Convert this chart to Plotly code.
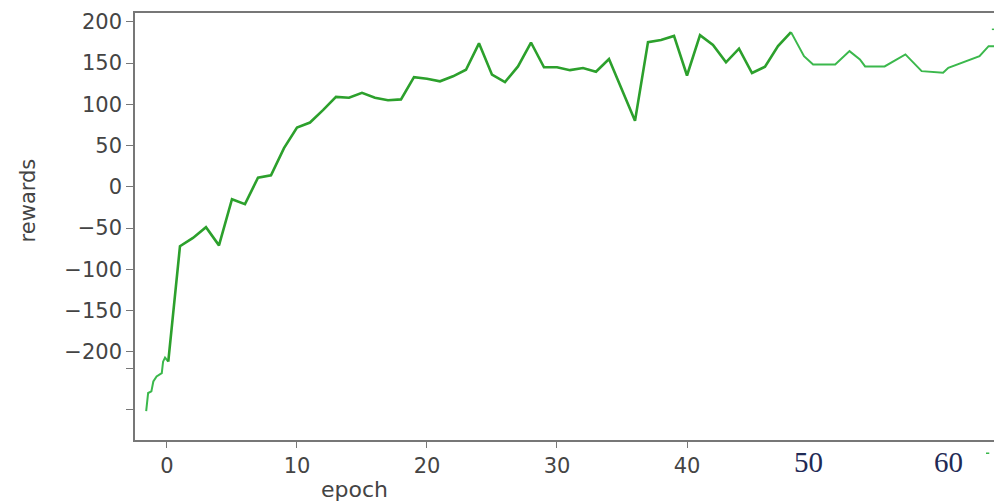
import plotly.graph_objects as go

# ---- data ----
pre_epochs = [-1.6, -1.45, -1.2, -1.05, -0.8, -0.4, -0.3, -0.15, 0.1]
pre_rewards = [-272, -250, -248, -236, -230, -226, -212, -207, -212]

main_epochs = [0.1] + list(range(1, 49))
main_rewards = [-212, -72, -62, -49, -71, -15, -21, 11, 14, 47, 72,
                78, 93, 109, 108, 114, 108, 105, 106, 133, 131,
                128, 134, 142, 174, 136, 127, 146, 175, 145, 145,
                141.5, 144, 139.5, 155, 118, 80, 175.5, 178, 183, 135,
                184, 172, 151, 167.5, 138, 145.6, 170.6, 187.6]

post_epochs = [48, 49, 49.7, 51.4, 52.5, 53.3, 53.7, 55.2, 56.8, 57.2, 58.05,
               59.7, 60.1, 62.5, 63.2, 64.3]
post_rewards = [187.6, 158.5, 148.4, 148.4, 164.6, 154.5, 146, 146, 160.6, 154.5,
                140.3, 138.3, 144.4, 158.5, 170.6, 170.6]

stray_epochs = [63.45, 63.75]
stray_rewards = [191, 191]

x_ticks = [0, 10, 20, 30, 40]
x_serif_ticks = ["50", "60"]
y_ticks = [-270, -220, -200, -150, -100, -50, 0, 50, 100, 150, 200]
y_ticktext = ["", "", "−200", "−150", "−100", "−50", "0", "50", "100", "150", "200"]

MAIN_GREEN = "#2ca02c"
LIGHT_GREEN = "#3bb84c"

fig = go.Figure()
fig.add_trace(go.Scatter(x=pre_epochs, y=pre_rewards, mode="lines",
                         line=dict(color=LIGHT_GREEN, width=2), showlegend=False))
fig.add_trace(go.Scatter(x=main_epochs, y=main_rewards, mode="lines",
                         line=dict(color=MAIN_GREEN, width=2.6), showlegend=False))
fig.add_trace(go.Scatter(x=post_epochs, y=post_rewards, mode="lines",
                         line=dict(color=LIGHT_GREEN, width=2), showlegend=False))
fig.add_trace(go.Scatter(x=stray_epochs, y=stray_rewards, mode="lines",
                         line=dict(color=LIGHT_GREEN, width=1.5), showlegend=False))

fig.update_layout(
    width=994, height=495,
    margin=dict(l=127, r=0, t=5, b=63),
    plot_bgcolor="white", paper_bgcolor="white",
    font=dict(family="DejaVu Sans", color="#444"),
    xaxis=dict(range=[-2.46, 64.23], tickvals=x_ticks,
               ticks="outside", ticklen=6, tickcolor="#777",
               showline=True, linecolor="#777", linewidth=1.6, mirror=True,
               showgrid=False, zeroline=False,
               tickfont=dict(size=21, color="#444")),
    yaxis=dict(range=[-307, 210.8], tickvals=y_ticks, ticktext=y_ticktext,
               ticks="outside", ticklen=7, tickcolor="#777",
               showline=True, linecolor="#777", linewidth=1.6,
               showgrid=False, zeroline=False,
               tickfont=dict(size=21, color="#444")),
    annotations=[
        dict(text="epoch", xref="paper", yref="paper", x=0.2537, y=-0.117,
             xanchor="center", yanchor="middle", showarrow=False,
             font=dict(size=22, color="#444", family="DejaVu Sans")),
        dict(text="rewards", xref="paper", yref="paper", x=-0.123, y=0.562,
             xanchor="center", yanchor="middle", showarrow=False, textangle=-90,
             font=dict(size=21, color="#444", family="DejaVu Sans")),
        dict(text=x_serif_ticks[0], xref="x", yref="paper", x=50, xshift=-9, y=-0.052,
             xanchor="center", yanchor="middle", showarrow=False,
             font=dict(size=29, color="#1f2a55", family="Liberation Serif")),
        dict(text=x_serif_ticks[1], xref="x", yref="paper", x=60, xshift=1, y=-0.052,
             xanchor="center", yanchor="middle", showarrow=False,
             font=dict(size=29, color="#1f2a55", family="Liberation Serif")),
    ],
    shapes=[
        dict(type="line", xref="x", yref="paper", x0=63.0, x1=63.25,
             y0=-0.031, y1=-0.031, line=dict(color=LIGHT_GREEN, width=1.5)),
    ],
)

fig.write_html("out.html")
